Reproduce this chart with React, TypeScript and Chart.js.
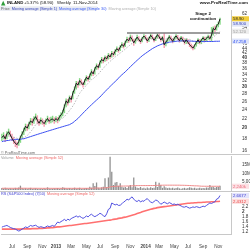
import React, { useEffect, useRef } from "react";
import { Chart, registerables } from "chart.js";

Chart.register(...registerables);

const FONT = "'Liberation Sans', Arial, sans-serif";

// ---------- data ----------
const firstWeek = "2012-05-22";
const totalWeeks = 136;

const closes = [
  18.2, 18.6, 18.0, 18.9, 19.3, 18.7, 18.1, 17.6, 17.2, 17.0,
  17.5, 18.3, 18.9, 19.6, 20.4, 20.0, 20.8, 21.5, 21.1, 21.9,
  22.4, 21.6, 21.0, 21.7, 21.3, 20.9, 21.5, 22.0, 21.4, 21.8,
  21.9, 21.5, 22.0, 21.6, 22.3, 22.8, 23.4, 24.8, 26.2, 25.6,
  27.1, 26.5, 28.3, 29.5, 31.2, 30.6, 32.0, 31.3, 30.7, 31.9,
  33.1, 32.4, 33.6, 35.0, 34.2, 35.9, 37.1, 36.4, 38.2, 39.5,
  38.8, 40.3, 39.6, 41.2, 40.4, 42.0, 41.3, 42.8, 43.9, 43.1,
  44.6, 45.8, 44.9, 46.7, 48.2, 47.4, 49.3, 48.1, 46.5, 47.8,
  49.2, 48.0, 46.9, 48.6, 49.7, 48.8, 47.3, 48.5, 50.1, 49.0,
  47.6, 48.9, 50.4, 49.3, 47.8, 49.1, 45.6, 46.8, 48.0, 49.4,
  48.3, 47.2, 48.7, 49.8, 48.6, 47.5, 48.9, 47.8, 46.6, 47.9,
  46.8, 45.6, 44.9, 44.1, 45.3, 46.7, 47.9, 46.6, 47.8, 48.9,
  47.7, 48.6, 49.5, 48.4, 50.2, 53.6, 52.8, 55.1, 55.9, 58.9,
];

const lows = [
  17.6, 17.9, 17.5, 17.9, 18.6, 18.3, 17.6, 17.1, 16.6, 16.4,
  16.8, 17.3, 18.1, 18.7, 19.4, 19.5, 19.8, 20.6, 20.5, 20.9,
  21.6, 20.8, 20.5, 20.8, 20.7, 20.3, 20.7, 21.2, 20.9, 21.0,
  21.2, 20.9, 21.2, 21.0, 21.4, 22.0, 22.5, 23.2, 24.6, 25.0,
  25.7, 25.8, 26.6, 28.1, 29.3, 29.8, 30.5, 30.6, 29.9, 30.6,
  31.8, 31.7, 32.3, 33.4, 33.5, 34.0, 35.6, 35.7, 36.3, 37.9,
  38.0, 38.6, 38.8, 39.4, 39.6, 40.2, 40.5, 41.1, 42.5, 42.2,
  42.9, 44.3, 44.0, 44.6, 46.4, 46.5, 47.1, 47.2, 45.2, 46.1,
  47.5, 47.1, 46.0, 46.7, 48.2, 47.9, 46.4, 46.9, 48.3, 48.1,
  46.8, 47.3, 48.6, 48.4, 47.0, 47.5, 44.2, 44.9, 46.2, 47.5,
  47.4, 46.3, 46.8, 48.1, 47.7, 46.6, 47.0, 46.9, 45.7, 46.0,
  45.9, 44.6, 43.9, 43.2, 43.6, 44.8, 46.0, 45.8, 45.9, 47.1,
  46.9, 47.0, 47.9, 47.6, 47.2, 50.0, 51.7, 52.5, 54.2, 55.6,
];

const highs = [
  18.9, 19.2, 18.8, 19.4, 19.9, 19.5, 18.9, 18.3, 17.9, 17.5,
  17.9, 18.6, 19.4, 20.1, 20.9, 20.8, 21.3, 22.1, 22.0, 22.5,
  23.1, 22.7, 21.9, 22.2, 22.0, 21.6, 22.0, 22.6, 22.2, 22.4,
  22.6, 22.2, 22.5, 22.3, 22.8, 23.4, 24.0, 25.3, 26.8, 26.7,
  27.6, 27.5, 28.9, 30.2, 31.9, 31.7, 32.8, 32.4, 31.6, 32.5,
  33.7, 33.5, 34.3, 35.8, 35.3, 36.6, 37.9, 37.6, 39.0, 40.4,
  40.1, 41.0, 40.8, 42.0, 41.7, 42.9, 42.6, 43.6, 44.8, 44.3,
  45.4, 46.7, 46.3, 47.5, 49.3, 48.9, 50.4, 50.0, 48.4, 48.6,
  50.3, 49.6, 48.4, 49.4, 50.6, 50.2, 49.0, 49.3, 50.9, 50.4,
  49.2, 49.6, 51.0, 50.7, 49.5, 49.8, 51.2, 47.6, 48.9, 50.2,
  49.9, 48.7, 49.5, 50.6, 50.2, 49.0, 49.7, 49.4, 48.2, 48.6,
  48.3, 47.2, 46.1, 45.4, 45.9, 47.4, 48.6, 48.2, 48.5, 49.6,
  49.3, 49.4, 50.3, 50.0, 54.3, 54.6, 55.2, 56.0, 57.3, 59.6,
];

const ma10 = [
  18.3, 18.3, 18.3, 18.4, 18.5, 18.5, 18.4, 18.3, 18.2, 18.1,
  18.0, 18.0, 18.1, 18.2, 18.4, 18.6, 18.9, 19.3, 19.7, 20.2,
  20.7, 21.0, 21.2, 21.4, 21.5, 21.5, 21.5, 21.5, 21.5, 21.5,
  21.5, 21.5, 21.6, 21.6, 21.7, 21.9, 22.1, 22.4, 22.9, 23.3,
  23.8, 24.3, 24.9, 25.6, 26.5, 27.3, 28.2, 28.9, 29.4, 30.0,
  30.6, 31.2, 31.7, 32.3, 32.6, 33.1, 33.6, 34.1, 34.8, 35.5,
  36.1, 36.9, 37.5, 38.1, 38.7, 39.3, 39.8, 40.4, 41.0, 41.4,
  42.0, 42.6, 43.1, 43.7, 44.4, 44.9, 45.7, 46.2, 46.5, 47.0,
  47.5, 47.7, 47.9, 48.1, 48.2, 48.3, 48.1, 48.1, 48.3, 48.4,
  48.3, 48.4, 48.5, 48.6, 48.6, 48.6, 48.4, 48.2, 48.2, 48.2,
  48.3, 48.1, 48.2, 48.3, 48.4, 48.3, 48.6, 48.7, 48.5, 48.4,
  48.3, 48.1, 47.8, 47.3, 47.0, 46.9, 46.8, 46.7, 46.7, 46.8,
  46.9, 47.2, 47.7, 48.1, 48.6, 49.3, 49.8, 50.7, 51.2, 52.12,
];

const ma30 = [
  17.5, 17.6, 17.6, 17.7, 17.7, 17.8, 17.8, 17.8, 17.9, 17.9,
  17.9, 17.9, 18.0, 18.0, 18.1, 18.2, 18.3, 18.4, 18.5, 18.6,
  18.7, 18.8, 18.9, 19.0, 19.1, 19.2, 19.3, 19.4, 19.5, 19.6,
  19.7, 19.8, 19.9, 20.0, 20.1, 20.2, 20.3, 20.4, 20.5, 20.6,
  20.7, 20.9, 21.1, 21.4, 21.7, 22.0, 22.4, 22.8, 23.2, 23.6,
  24.0, 24.4, 24.8, 25.2, 25.6, 26.0, 26.4, 26.8, 27.2, 27.7,
  28.2, 28.7, 29.2, 29.7, 30.2, 30.7, 31.2, 31.7, 32.2, 32.8,
  33.4, 33.9, 34.4, 34.9, 35.5, 36.1, 36.7, 37.3, 37.9, 38.5,
  39.1, 39.7, 40.3, 40.9, 41.4, 41.9, 42.4, 42.9, 43.4, 43.9,
  44.3, 44.7, 45.1, 45.4, 45.7, 46.0, 46.2, 46.4, 46.6, 46.8,
  46.9, 47.0, 47.1, 47.2, 47.3, 47.3, 47.4, 47.4, 47.4, 47.4,
  47.4, 47.3, 47.3, 47.2, 47.2, 47.1, 47.1, 47.1, 47.1, 47.1,
  47.1, 47.1, 47.1, 47.1, 47.1, 47.1, 47.2, 47.2, 47.2, 47.258,
];

// weekly volume, millions of shares
const volumes = [
  1.2, 0.9, 1.4, 1.0, 0.8, 1.1, 0.7, 0.9, 1.3, 1.0,
  1.5, 2.6, 1.2, 0.9, 1.1, 0.8, 1.0, 1.3, 0.7, 0.9,
  1.1, 0.8, 0.6, 0.9, 0.7, 1.0, 0.8, 1.6, 0.9, 0.7,
  0.8, 1.0, 0.9, 1.2, 0.8, 1.1, 1.7, 1.3, 1.0, 0.9,
  1.2, 0.8, 1.1, 1.4, 0.9, 1.0, 1.3, 0.8, 0.7, 1.0,
  1.2, 0.9, 2.0, 1.4, 4.0, 2.4, 4.5, 1.3, 1.1, 1.6,
  2.0, 7.0, 1.8, 7.5, 20.0, 11.0, 3.0, 4.5, 4.8, 2.5,
  4.0, 2.0, 1.5, 1.8, 1.2, 2.2, 3.0, 1.6, 7.5, 2.1,
  1.4, 1.2, 1.8, 1.0, 1.3, 0.9, 1.5, 1.1, 1.6, 1.2,
  1.4, 5.0, 1.8, 4.4, 3.0, 1.3, 2.2, 1.5, 1.1, 1.4,
  1.0, 1.3, 0.9, 1.2, 1.5, 1.0, 0.8, 1.1, 1.3, 0.9,
  1.2, 1.6, 1.4, 1.0, 1.3, 0.9, 1.1, 1.4, 1.0, 1.2,
  1.1, 1.5, 1.3, 3.0, 1.7, 2.0, 1.4, 1.8, 2.0, 2.5,
];

const volumeMa52 = [
  1.05, 1.05, 1.05, 1.04, 1.04, 1.04, 1.03, 1.03, 1.03, 1.03,
  1.04, 1.06, 1.06, 1.06, 1.06, 1.05, 1.05, 1.05, 1.04, 1.04,
  1.04, 1.03, 1.02, 1.02, 1.01, 1.01, 1.01, 1.02, 1.02, 1.01,
  1.01, 1.01, 1.01, 1.01, 1.01, 1.01, 1.02, 1.02, 1.02, 1.02,
  1.02, 1.02, 1.02, 1.02, 1.02, 1.02, 1.02, 1.02, 1.02, 1.02,
  1.02, 1.02, 1.04, 1.04, 1.10, 1.12, 1.19, 1.19, 1.19, 1.20,
  1.22, 1.34, 1.35, 1.48, 1.86, 2.06, 2.10, 2.17, 2.25, 2.28,
  2.34, 2.36, 2.37, 2.39, 2.40, 2.42, 2.46, 2.47, 2.60, 2.63,
  2.63, 2.63, 2.65, 2.65, 2.66, 2.65, 2.66, 2.66, 2.67, 2.67,
  2.68, 2.75, 2.77, 2.83, 2.87, 2.87, 2.89, 2.90, 2.90, 2.90,
  2.90, 2.90, 2.89, 2.89, 2.89, 2.88, 2.85, 2.85, 2.81, 2.77,
  2.73, 2.70, 2.62, 2.57, 2.51, 2.50, 2.45, 2.38, 2.28, 2.27,
  2.25, 2.25, 2.22, 2.25, 2.24, 2.25, 2.24, 2.25, 2.23, 2.24,
];

const rsLine = [
  1.37, 1.40, 1.42, 1.44, 1.40, 1.36, 1.33, 1.31, 1.29, 1.25,
  1.21, 1.24, 1.29, 1.33, 1.38, 1.35, 1.39, 1.44, 1.41, 1.43,
  1.45, 1.40, 1.36, 1.39, 1.37, 1.34, 1.38, 1.42, 1.39, 1.41,
  1.44, 1.40, 1.49, 1.58, 1.55, 1.60, 1.64, 1.69, 1.63, 1.70,
  1.66, 1.72, 1.76, 1.79, 1.83, 1.78, 1.82, 1.77, 1.73, 1.77,
  1.83, 1.79, 1.86, 1.90, 1.84, 1.80, 1.84, 1.88, 1.94, 1.90,
  1.84, 1.80, 1.92, 2.10, 2.14, 2.36, 2.32, 2.28, 2.31, 2.26,
  2.27, 2.33, 2.40, 2.44, 2.52, 2.48, 2.56, 2.61, 2.52, 2.45,
  2.42, 2.48, 2.40, 2.45, 2.43, 2.50, 2.54, 2.46, 2.40, 2.37,
  2.42, 2.48, 2.46, 2.38, 2.31, 2.35, 2.40, 2.36, 2.33, 2.38,
  2.34, 2.30, 2.32, 2.28, 2.31, 2.27, 2.24, 2.20, 2.19, 2.22,
  2.18, 2.15, 2.17, 2.20, 2.18, 2.21, 2.19, 2.17, 2.20, 2.23,
  2.21, 2.26, 2.31, 2.36, 2.34, 2.38, 2.41, 2.52, 2.55, 2.6677,
];

const rsMa52 = [
  1.29, 1.29, 1.29, 1.29, 1.29, 1.29, 1.29, 1.29, 1.29, 1.29,
  1.29, 1.29, 1.30, 1.30, 1.30, 1.30, 1.30, 1.30, 1.31, 1.31,
  1.31, 1.31, 1.32, 1.32, 1.32, 1.33, 1.33, 1.34, 1.34, 1.35,
  1.35, 1.36, 1.37, 1.38, 1.38, 1.39, 1.40, 1.41, 1.42, 1.43,
  1.44, 1.44, 1.45, 1.46, 1.47, 1.48, 1.49, 1.50, 1.51, 1.52,
  1.52, 1.53, 1.54, 1.55, 1.56, 1.57, 1.58, 1.59, 1.60, 1.61,
  1.62, 1.63, 1.64, 1.65, 1.66, 1.67, 1.69, 1.70, 1.71, 1.73,
  1.74, 1.75, 1.77, 1.78, 1.80, 1.82, 1.84, 1.86, 1.88, 1.90,
  1.93, 1.95, 1.97, 2.00, 2.02, 2.04, 2.06, 2.08, 2.10, 2.12,
  2.14, 2.15, 2.17, 2.18, 2.19, 2.20, 2.21, 2.22, 2.23, 2.24,
  2.25, 2.26, 2.27, 2.28, 2.29, 2.30, 2.31, 2.32, 2.33, 2.34,
  2.35, 2.35, 2.36, 2.36, 2.37, 2.37, 2.38, 2.38, 2.38, 2.39,
  2.39, 2.40, 2.40, 2.40, 2.41, 2.41, 2.41, 2.42, 2.42, 2.4312,
];

const priceTicks = [16, 18, 20, 22, 24, 26, 28, 30, 32, 34, 36, 38, 40, 42, 44, 46, 54, 62];
const boldPriceTicks = [20, 30, 40];
const volumeTicks = [5, 10, 15];
const rsTicks = [1.2, 1.4, 1.6, 1.8, 2, 2.2];

const resistanceLevel = 51.2;
const resistanceFromWeek = 74;
const annotationLines = ["Stage 2", "continuation"];
const annotationWeek = 119;
const annotationValue = 61.8;

const headerSymbol = "INLAND";
const headerChange = "+5.37% (58.90)";
const headerPeriod = "Weekly";
const headerDate = "11-Nov-2014";
const monthNames = ["Jan", "Feb", "Mar", "Apr", "May", "Jun", "Jul", "Aug", "Sep", "Oct", "Nov", "Dec"];

// ---------- helpers ----------
const weekDates: Date[] = Array.from({ length: totalWeeks }, (_, i) => {
  const d = new Date(firstWeek + "T00:00:00Z");
  d.setUTCDate(d.getUTCDate() + 7 * i);
  return d;
});
const labels = weekDates.map((d) => d.toISOString().slice(0, 10));

function monthLabel(i: number): string {
  const d = weekDates[i];
  const prev = i > 0 ? weekDates[i - 1] : null;
  if (!d || !prev || prev.getUTCMonth() === d.getUTCMonth()) return "";
  const m = d.getUTCMonth();
  if (m % 2 !== 0) return "";
  return m === 0 ? String(d.getUTCFullYear()) : monthNames[m];
}

const font = (size: number, weight = "normal") => `${weight} ${size}px ${FONT}`;

function text(ctx: CanvasRenderingContext2D, s: string, x: number, y: number, size: number, color: string, weight = "normal", align: CanvasTextAlign = "left") {
  ctx.font = font(size, weight);
  ctx.fillStyle = color;
  ctx.textAlign = align;
  ctx.textBaseline = "middle";
  ctx.fillText(s, x, y);
  return ctx.measureText(s).width;
}

type Box = { value: number; label: string; bg: string; fg: string };

function drawBoxes(chart: any, scaleId: string, boxes: Box[]) {
  const ctx = chart.ctx as CanvasRenderingContext2D;
  const sc = chart.scales[scaleId];
  const items = boxes.map((b) => ({ ...b, y: sc.getPixelForValue(b.value) })).sort((a, b) => a.y - b.y);
  for (let k = 1; k < items.length; k++) {
    if (items[k].y < items[k - 1].y + 5.2) items[k].y = items[k - 1].y + 5.2;
  }
  const x0 = chart.chartArea.right + 1;
  items.forEach((b) => {
    ctx.fillStyle = b.bg;
    ctx.fillRect(x0, b.y - 2.6, 250 - x0 - 1, 5.2);
    text(ctx, b.label, x0 + 1, b.y + 0.2, 4.3, b.fg);
  });
}

function hline(ctx: CanvasRenderingContext2D, y: number, x0: number, x1: number, color: string) {
  ctx.strokeStyle = color;
  ctx.lineWidth = 1;
  ctx.beginPath();
  ctx.moveTo(x0, y);
  ctx.lineTo(x1, y);
  ctx.stroke();
}

const yAxisBase = (ticks: number[], bold: (v: number) => boolean, fmt: (v: number) => string) => ({
  position: "right" as const,
  afterBuildTicks: (s: any) => {
    s.ticks = ticks.map((v) => ({ value: v }));
  },
  afterFit: (s: any) => {
    s.width = 19;
    s.paddingTop = 0;
    s.paddingBottom = 0;
  },
  grid: { display: false },
  border: { display: true, color: "#c8c8c8" },
  ticks: {
    autoSkip: false,
    padding: 3,
    color: "#333",
    callback: (v: any) => fmt(Number(v)),
    font: (c: any) => ({ family: FONT, size: 4.6, weight: c.tick && bold(c.tick.value) ? "bold" : "normal" }),
  },
});

const baseOptions = (padding: any) => ({
  responsive: false,
  animation: false as const,
  devicePixelRatio: 1,
  events: [] as any[],
  layout: { padding },
  plugins: { legend: { display: false }, tooltip: { enabled: false } },
});

export default function App() {
  const priceRef = useRef<HTMLCanvasElement>(null);
  const volRef = useRef<HTMLCanvasElement>(null);
  const rsRef = useRef<HTMLCanvasElement>(null);

  useEffect(() => {
    const last = closes.length - 1;
    const barColors = closes.map((c, i) => (i === 0 || c >= closes[i - 1] ? "#86d886" : "#f59db0"));

    const priceOverlay = {
      id: "priceOverlay",
      afterDraw(chart: any) {
        const ctx = chart.ctx as CanvasRenderingContext2D;
        const { scales } = chart;
        ctx.save();
        // header line 1
        ctx.fillStyle = "#2f9e3b";
        ctx.beginPath();
        ctx.moveTo(1, 5.5);
        ctx.lineTo(3.2, 0.8);
        ctx.lineTo(5.4, 5.5);
        ctx.closePath();
        ctx.fill();
        text(ctx, headerSymbol, 7, 3.2, 4.3, "#111", "bold");
        text(ctx, headerChange, 24, 3.2, 4.3, "#111");
        text(ctx, headerPeriod, 57, 3.2, 4.3, "#111");
        text(ctx, headerDate, 73, 3.2, 4.3, "#111");
        text(ctx, "www.ProRealTime.com", 248, 3.2, 4.4, "#111", "bold", "right");
        // header line 2 (legend)
        ctx.fillStyle = "#e9ecf3";
        ctx.fillRect(0, 6.3, 97, 4.6);
        let x = 1;
        x += text(ctx, "Price", x, 8.7, 3.8, "#555") + 2;
        x += text(ctx, "Moving average (Simple 1)", x, 8.7, 3.8, "#3340b8") + 2;
        x += text(ctx, "Moving average (Simple 30)", x, 8.7, 3.8, "#3b5cf5") + 2;
        text(ctx, "Moving average (Simple 10)", x, 8.7, 3.8, "#b0b0b0");
        // annotation
        const ax = scales.x.getPixelForValue(annotationWeek);
        const ay = scales.y.getPixelForValue(annotationValue);
        annotationLines.forEach((s, k) => text(ctx, s, ax, ay + k * 5, 4.4, "#111", "bold", "center"));
        // copyright + separator
        text(ctx, "\u00a9 ProRealTime.com", 1, 152.6, 3.8, "#666");
        hline(ctx, 154.5, 0, 250, "#c8c8c8");
        drawBoxes(chart, "y", [
          { value: closes[last], label: closes[last].toFixed(2), bg: "#f1cd3c", fg: "#222" },
          { value: closes[last], label: closes[last].toFixed(3), bg: "#e2e7f7", fg: "#3340b8" },
          { value: ma10[last], label: ma10[last].toFixed(3), bg: "#ededed", fg: "#9a9a9a" },
          { value: ma30[last], label: ma30[last].toFixed(3), bg: "#dde4fb", fg: "#2d4bf0" },
        ]);
        ctx.restore();
      },
    };

    const priceChart = new Chart(priceRef.current!, {
      type: "bar",
      data: {
        labels,
        datasets: [
          { type: "line", data: closes, borderColor: "#1b1b1b", borderWidth: 1, pointRadius: 0, order: 0 } as any,
          { type: "line", data: ma30, borderColor: "#3b4ff0", borderWidth: 1, pointRadius: 0, order: 1 } as any,
          { type: "line", data: ma10, borderColor: "#b8b8b8", borderWidth: 1, borderDash: [1.5, 1.5], pointRadius: 0, order: 2 } as any,
          {
            type: "line",
            data: closes.map((_, i) => (i >= resistanceFromWeek ? resistanceLevel : null)),
            borderColor: "#7c7c7c",
            borderWidth: 1.4,
            pointRadius: 0,
            order: 3,
          } as any,
          {
            type: "bar",
            data: lows.map((l, i) => [l, highs[i]]),
            backgroundColor: barColors,
            barPercentage: 0.85,
            categoryPercentage: 1,
            order: 4,
          } as any,
        ],
      },
      options: {
        ...baseOptions({ left: 1, top: 10, bottom: 3, right: 0 }),
        scales: {
          x: { display: false },
          y: {
            type: "logarithmic",
            min: 15.8,
            max: 64.3,
            ...yAxisBase(priceTicks, (v) => boldPriceTicks.includes(v), (v) => String(v)),
          } as any,
        },
      } as any,
      plugins: [priceOverlay],
    });

    const volOverlay = {
      id: "volOverlay",
      afterDraw(chart: any) {
        const ctx = chart.ctx as CanvasRenderingContext2D;
        ctx.save();
        let x = 1;
        x += text(ctx, "Volume", x, 2.6, 3.8, "#999") + 2;
        text(ctx, "Moving average (Simple 52)", x, 2.6, 3.8, "#ee6666");
        hline(ctx, 36.5, 0, 250, "#c8c8c8");
        const v = volumeMa52[last];
        drawBoxes(chart, "y", [{ value: v, label: Math.round(v * 1000).toLocaleString("en-US") + "k", bg: "#fde0e4", fg: "#e86a7a" }]);
        ctx.restore();
      },
    };

    const volChart = new Chart(volRef.current!, {
      type: "bar",
      data: {
        labels,
        datasets: [
          { type: "line", data: volumeMa52, borderColor: "#f08a8a", borderWidth: 1, pointRadius: 0, order: 0 } as any,
          { type: "bar", data: volumes, backgroundColor: "#8f8f8f", barPercentage: 0.75, categoryPercentage: 1, order: 1 } as any,
        ],
      },
      options: {
        ...baseOptions({ left: 1, top: 1, bottom: 2, right: 0 }),
        scales: {
          x: { display: false },
          y: {
            type: "linear",
            min: 0,
            max: 20.4,
            ...yAxisBase(volumeTicks, () => false, (v) => (v < 10 ? (v * 1000).toLocaleString("en-US") + "k" : v + "M")),
          } as any,
        },
      } as any,
      plugins: [volOverlay],
    });

    const rsOverlay = {
      id: "rsOverlay",
      afterDraw(chart: any) {
        const ctx = chart.ctx as CanvasRenderingContext2D;
        ctx.save();
        let x = 1;
        x += text(ctx, "RS (S&P500 Index) (7|50)", x, 2.2, 3.8, "#3a3ad0") + 2;
        text(ctx, "Moving average (Simple 52)", x, 2.2, 3.8, "#ee6666");
        drawBoxes(chart, "y", [
          { value: rsLine[last], label: rsLine[last].toFixed(4), bg: "#e4e4fb", fg: "#3a3ad0" },
          { value: rsMa52[last], label: rsMa52[last].toFixed(4), bg: "#fddede", fg: "#e84848" },
        ]);
        ctx.restore();
      },
    };

    const rsChart = new Chart(rsRef.current!, {
      type: "line",
      data: {
        labels,
        datasets: [
          { data: rsLine, borderColor: "#5050e0", borderWidth: 1, pointRadius: 0, order: 0 },
          { data: rsMa52, borderColor: "#ff7070", borderWidth: 1.6, pointRadius: 0, order: 1 },
        ],
      },
      options: {
        ...baseOptions({ left: 1, top: 1, bottom: 0, right: 0 }),
        scales: {
          x: {
            offset: true,
            grid: { display: false },
            border: { display: true, color: "#c8c8c8" },
            afterFit: (s: any) => {
              s.paddingLeft = 0;
              s.paddingRight = 0;
            },
            ticks: {
              autoSkip: false,
              maxRotation: 0,
              minRotation: 0,
              padding: 1,
              color: "#444",
              callback: (_v: any, idx: number) => monthLabel(idx),
              font: (c: any) => ({ family: FONT, size: 4.6, weight: /^\d{4}$/.test(monthLabel(c.index)) ? "bold" : "normal" }),
            },
          },
          y: {
            type: "linear",
            min: 1.07,
            max: 2.77,
            ...yAxisBase(rsTicks, (v) => v === 2, (v) => String(v)),
          } as any,
        },
      } as any,
      plugins: [rsOverlay],
    });

    return () => {
      priceChart.destroy();
      volChart.destroy();
      rsChart.destroy();
    };
  }, []);

  return (
    <div style={{ position: "absolute", left: 0, top: 0, width: 250, height: 250, background: "#fff", overflow: "hidden" }}>
      <canvas ref={priceRef} width={250} height={155} style={{ position: "absolute", left: 0, top: 0, width: 250, height: 155 }} />
      <canvas ref={volRef} width={250} height={37} style={{ position: "absolute", left: 0, top: 155, width: 250, height: 37 }} />
      <canvas ref={rsRef} width={250} height={58} style={{ position: "absolute", left: 0, top: 192, width: 250, height: 58 }} />
    </div>
  );
}
